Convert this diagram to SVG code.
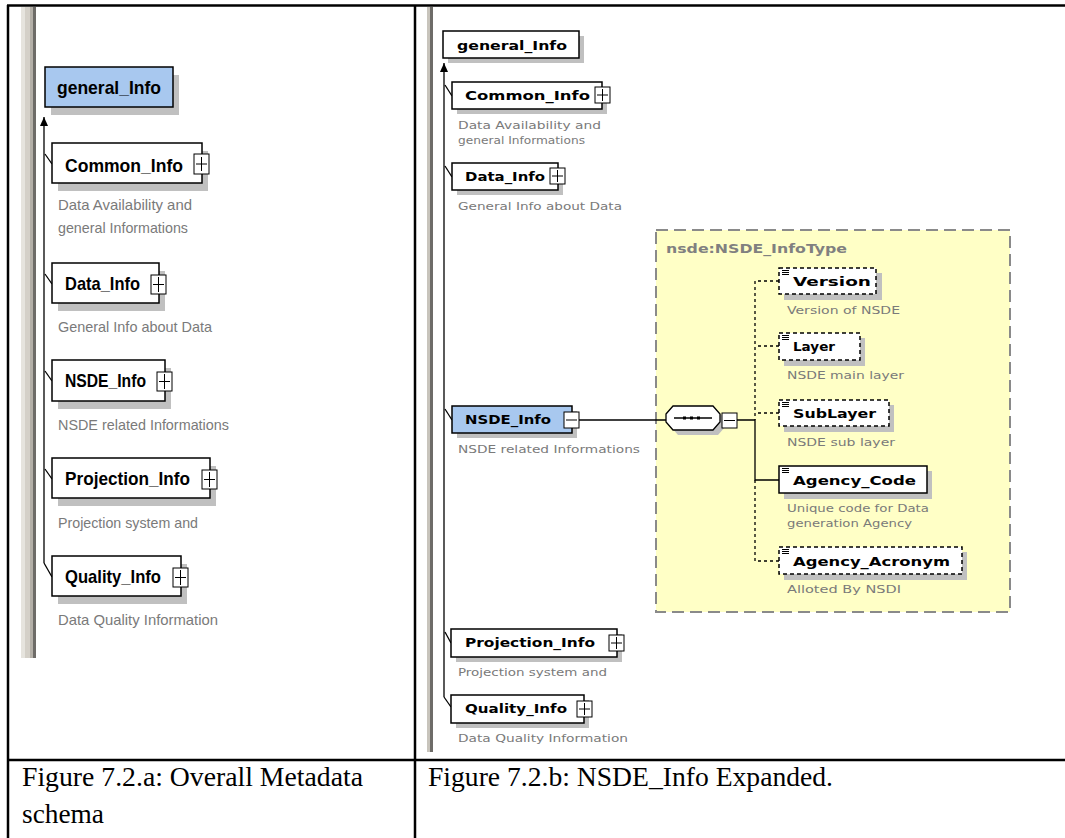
<svg xmlns="http://www.w3.org/2000/svg" width="1065" height="838" viewBox="0 0 1065 838">
<style>
.box{fill:#fff;stroke:#000;stroke-width:1.5}
.blue{fill:#a8c8ef;stroke:#000;stroke-width:1.5}
.dbox{fill:#fff;stroke:#000;stroke-width:1.5;stroke-dasharray:4,3}
.sh{fill:#c0c0c0}
.pb{fill:#fff;stroke:#000;stroke-width:1}
.pl{stroke:#000;stroke-width:1}
.ln{fill:none;stroke:#000;stroke-width:1.3}
.dl{fill:none;stroke:#000;stroke-width:1.3;stroke-dasharray:3,3}
.lt{font-family:"Liberation Sans",Arial,sans-serif;font-weight:bold;font-size:19px;fill:#000}
.ld{font-family:"Liberation Sans",Arial,sans-serif;font-size:15px;fill:#7a7a7a}
.rt{font-family:"DejaVu Sans",Verdana,sans-serif;font-weight:bold;font-size:12.5px;fill:#000}
.rd{font-family:"DejaVu Sans",Verdana,sans-serif;font-size:11px;fill:#7a7a7a}
.cap{font-family:"Liberation Serif","Times New Roman",serif;font-size:27px;fill:#000}
.tb{stroke:#000;stroke-width:2.5}
</style>
<defs>
<marker id="arr" markerWidth="10" markerHeight="8" refX="9" refY="4" orient="auto" markerUnits="userSpaceOnUse">
<path d="M0,0 L9,4 L0,8 Z" fill="#000"/>
</marker>
</defs>
<rect width="1065" height="838" fill="#fff"/>
<!-- table -->
<g id="table">
<line class="tb" x1="7" y1="5.5" x2="1065" y2="5.5"/>
<line class="tb" x1="8" y1="5" x2="8" y2="838"/>
<line class="tb" x1="415" y1="5" x2="415" y2="838"/>
<line class="tb" x1="7" y1="760" x2="1065" y2="760"/>
</g>
<!-- gray bars -->
<g id="leftbar">
<rect x="21" y="7" width="4" height="651" fill="#e6e4de"/>
<rect x="25" y="7" width="5" height="651" fill="#d4d0c8"/>
<rect x="30" y="7" width="3" height="651" fill="#b4b0a8"/>
<rect x="33" y="7" width="3" height="651" fill="#6e6c68"/>
</g>
<g id="rightbar">
<rect x="427" y="7" width="3" height="745" fill="#c8c4bc"/>
<rect x="430" y="7" width="3" height="745" fill="#6e6c68"/>
</g>
<g id="nsde-InfoType">
<rect x="656" y="230" width="354" height="382" fill="#ffffc6" stroke="#8a8a8a" stroke-width="2" stroke-dasharray="12,6"/>
<text x="666" y="253" font-family="DejaVu Sans,Verdana,sans-serif" font-weight="bold" font-size="12px" fill="#808080" textLength="181" lengthAdjust="spacingAndGlyphs">nsde:NSDE_InfoType</text>
</g>
<!-- connectors -->
<g id="connectors">
<path class="ln" d="M44,563 L44,117" marker-end="url(#arr)"/>
<path class="ln" d="M44,563 L52,577"/>
<path class="ln" d="M45,154 L52,164"/>
<path class="ln" d="M45,274 L52,284"/>
<path class="ln" d="M45,371 L52,381"/>
<path class="ln" d="M45,469 L52,479"/>
<path class="ln" d="M444,697 L444,63" marker-end="url(#arr)"/>
<path class="ln" d="M444,697 L451,707"/>
<path class="ln" d="M445,85 L452,96"/>
<path class="ln" d="M445,166 L452,177"/>
<path class="ln" d="M445,409 L452,420"/>
<path class="ln" d="M445,632 L451,643"/>
<path class="ln" d="M579,420 L666,420"/>
<path class="ln" d="M737,420 L755,420 L755,480 L779,480"/>
<path class="dl" d="M779,281 L755,281 L755,420"/>
<path class="dl" d="M779,346 L755,346"/>
<path class="dl" d="M779,413 L755,413"/>
<path class="dl" d="M755,480 L755,561 L779,561"/>
</g>
<!-- left panel -->
<g id="l-general_Info">
<rect class="sh" x="51" y="75" width="128" height="40"/>
<rect class="blue" x="45" y="67" width="128" height="40"/>
<text class="lt" x="57" y="94" textLength="104" lengthAdjust="spacingAndGlyphs">general_Info</text>
</g>
<g id="l-Common_Info">
<rect class="sh" x="58" y="151" width="150" height="40"/>
<rect class="box" x="52" y="143" width="150" height="40"/>
<text class="lt" x="65" y="172" textLength="118" lengthAdjust="spacingAndGlyphs">Common_Info</text>
<rect class="pb" x="194" y="154" width="15" height="20"/>
<path class="pl" d="M196,164 H207 M201.5,157 V171"/>
<text class="ld" x="58" y="210" textLength="134" lengthAdjust="spacingAndGlyphs">Data Availability and</text>
<text class="ld" x="58" y="233" textLength="130" lengthAdjust="spacingAndGlyphs">general Informations</text>
</g>
<g id="l-Data_Info">
<rect class="sh" x="58" y="271" width="107" height="40"/>
<rect class="box" x="52" y="263" width="107" height="40"/>
<text class="lt" x="65" y="290" textLength="75" lengthAdjust="spacingAndGlyphs">Data_Info</text>
<rect class="pb" x="151" y="275" width="15" height="19"/>
<path class="pl" d="M153,284.5 H164 M158.5,277 V292"/>
<text class="ld" x="58" y="332" textLength="154" lengthAdjust="spacingAndGlyphs">General Info about Data</text>
</g>
<g id="l-NSDE_Info">
<rect class="sh" x="58" y="368" width="113" height="41"/>
<rect class="box" x="52" y="360" width="113" height="41"/>
<text class="lt" x="65" y="387" textLength="81" lengthAdjust="spacingAndGlyphs">NSDE_Info</text>
<rect class="pb" x="157" y="372" width="15" height="19"/>
<path class="pl" d="M159,381.5 H170 M164.5,374 V389"/>
<text class="ld" x="58" y="430" textLength="171" lengthAdjust="spacingAndGlyphs">NSDE related Informations</text>
</g>
<g id="l-Projection_Info">
<rect class="sh" x="58" y="466" width="158" height="40"/>
<rect class="box" x="52" y="458" width="158" height="40"/>
<text class="lt" x="65" y="485" textLength="125" lengthAdjust="spacingAndGlyphs">Projection_Info</text>
<rect class="pb" x="202" y="470" width="15" height="19"/>
<path class="pl" d="M204,479.5 H215 M209.5,472 V487"/>
<text class="ld" x="58" y="528" textLength="140" lengthAdjust="spacingAndGlyphs">Projection system and</text>
</g>
<g id="l-Quality_Info">
<rect class="sh" x="58" y="564" width="129" height="40"/>
<rect class="box" x="52" y="556" width="129" height="40"/>
<text class="lt" x="65" y="583" textLength="96" lengthAdjust="spacingAndGlyphs">Quality_Info</text>
<rect class="pb" x="173" y="568" width="15" height="19"/>
<path class="pl" d="M175,577.5 H186 M180.5,570 V585"/>
<text class="ld" x="58" y="625" textLength="160" lengthAdjust="spacingAndGlyphs">Data Quality Information</text>
</g>
<!-- right panel -->
<g id="r-general_Info">
<rect class="sh" x="448" y="36" width="136" height="27"/>
<rect class="box" x="443" y="31" width="136" height="27"/>
<text class="rt" x="457" y="50" textLength="110" lengthAdjust="spacingAndGlyphs">general_Info</text>
</g>
<g id="r-Common_Info">
<rect class="sh" x="457" y="87" width="150" height="27"/>
<rect class="box" x="452" y="82" width="150" height="27"/>
<text class="rt" x="465" y="100" textLength="125" lengthAdjust="spacingAndGlyphs">Common_Info</text>
<rect class="pb" x="595" y="87" width="15" height="16"/>
<path class="pl" d="M597,95 H608 M602.5,89 V101"/>
<text class="rd" x="458" y="129" textLength="143" lengthAdjust="spacingAndGlyphs">Data Availability and</text>
<text class="rd" x="458" y="144" textLength="127" lengthAdjust="spacingAndGlyphs">general Informations</text>
</g>
<g id="r-Data_Info">
<rect class="sh" x="457" y="168" width="106" height="27"/>
<rect class="box" x="452" y="163" width="106" height="27"/>
<text class="rt" x="465" y="181" textLength="80" lengthAdjust="spacingAndGlyphs">Data_Info</text>
<rect class="pb" x="550" y="168" width="15" height="16"/>
<path class="pl" d="M552,176 H563 M557.5,170 V182"/>
<text class="rd" x="458" y="210" textLength="164" lengthAdjust="spacingAndGlyphs">General Info about Data</text>
</g>
<g id="r-NSDE_Info">
<rect class="sh" x="457" y="411" width="120" height="27"/>
<rect class="blue" x="452" y="406" width="120" height="27"/>
<text class="rt" x="465" y="424" textLength="86" lengthAdjust="spacingAndGlyphs">NSDE_Info</text>
<rect class="pb" x="564" y="412" width="15" height="16"/>
<path class="pl" d="M566,420 H577"/>
<text class="rd" x="458" y="453" textLength="182" lengthAdjust="spacingAndGlyphs">NSDE related Informations</text>
</g>
<g id="sequence">
<path d="M671,419 L678,411 L718,411 L725,419 L725,427 L718,435 L678,435 L671,427 Z" fill="#c0c0c0"/>
<path d="M666,414 L673,406 L713,406 L720,414 L720,422 L713,430 L673,430 L666,422 Z" fill="#fff" stroke="#000" stroke-width="1.3"/>
<path d="M674,418 H712" stroke="#000" stroke-width="1.3"/>
<rect x="683" y="416.5" width="3" height="3" fill="#000"/>
<rect x="690" y="416.5" width="3" height="3" fill="#000"/>
<rect x="697" y="416.5" width="3" height="3" fill="#000"/>
<rect class="pb" x="722" y="413" width="15" height="15"/>
<path class="pl" d="M724,420.5 H735"/>
</g>
<g id="Version">
<rect class="sh" x="784" y="273" width="98" height="27"/>
<rect class="dbox" x="779" y="268" width="97" height="26"/>
<path class="pl" d="M782,270.5 H789 M782,272.5 H789 M782,274.5 H789"/>
<text class="rt" x="793" y="286" textLength="78" lengthAdjust="spacingAndGlyphs">Version</text>
<text class="rd" x="787" y="314" textLength="113" lengthAdjust="spacingAndGlyphs">Version of NSDE</text>
</g>
<g id="Layer">
<rect class="sh" x="784" y="338" width="81" height="28"/>
<rect class="dbox" x="779" y="333" width="81" height="27"/>
<path class="pl" d="M782,335.5 H789 M782,337.5 H789 M782,339.5 H789"/>
<text class="rt" x="793" y="351" textLength="42" lengthAdjust="spacingAndGlyphs">Layer</text>
<text class="rd" x="787" y="379" textLength="117" lengthAdjust="spacingAndGlyphs">NSDE main layer</text>
</g>
<g id="SubLayer">
<rect class="sh" x="784" y="405" width="110" height="27"/>
<rect class="dbox" x="779" y="400" width="110" height="26"/>
<path class="pl" d="M782,402.5 H789 M782,404.5 H789 M782,406.5 H789"/>
<text class="rt" x="793" y="418" textLength="83" lengthAdjust="spacingAndGlyphs">SubLayer</text>
<text class="rd" x="787" y="446" textLength="108" lengthAdjust="spacingAndGlyphs">NSDE sub layer</text>
</g>
<g id="Agency_Code">
<rect class="sh" x="784" y="471" width="148" height="28"/>
<rect class="box" x="779" y="466" width="148" height="27"/>
<path class="pl" d="M782,468.5 H789 M782,470.5 H789 M782,472.5 H789"/>
<text class="rt" x="793" y="485" textLength="123" lengthAdjust="spacingAndGlyphs">Agency_Code</text>
<text class="rd" x="787" y="512" textLength="142" lengthAdjust="spacingAndGlyphs">Unique code for Data</text>
<text class="rd" x="787" y="527" textLength="125" lengthAdjust="spacingAndGlyphs">generation Agency</text>
</g>
<g id="Agency_Acronym">
<rect class="sh" x="784" y="552" width="183" height="28"/>
<rect class="dbox" x="779" y="547" width="183" height="27"/>
<path class="pl" d="M782,549.5 H789 M782,551.5 H789 M782,553.5 H789"/>
<text class="rt" x="793" y="566" textLength="157" lengthAdjust="spacingAndGlyphs">Agency_Acronym</text>
<text class="rd" x="787" y="593" textLength="114" lengthAdjust="spacingAndGlyphs">Alloted By NSDI</text>
</g>
<g id="r-Projection_Info">
<rect class="sh" x="456" y="634" width="166" height="28"/>
<rect class="box" x="451" y="629" width="166" height="28"/>
<text class="rt" x="465" y="647" textLength="130" lengthAdjust="spacingAndGlyphs">Projection_Info</text>
<rect class="pb" x="609" y="635" width="15" height="16"/>
<path class="pl" d="M611,643 H622 M616.5,637 V649"/>
<text class="rd" x="458" y="676" textLength="149" lengthAdjust="spacingAndGlyphs">Projection system and</text>
</g>
<g id="r-Quality_Info">
<rect class="sh" x="456" y="700" width="133" height="28"/>
<rect class="box" x="451" y="695" width="133" height="28"/>
<text class="rt" x="465" y="713" textLength="102" lengthAdjust="spacingAndGlyphs">Quality_Info</text>
<rect class="pb" x="577" y="701" width="15" height="16"/>
<path class="pl" d="M579,709 H590 M584.5,703 V715"/>
<text class="rd" x="458" y="742" textLength="170" lengthAdjust="spacingAndGlyphs">Data Quality Information</text>
</g>
<!-- captions -->
<g id="captions">
<text class="cap" x="22" y="786" textLength="341" lengthAdjust="spacingAndGlyphs">Figure 7.2.a: Overall Metadata</text>
<text class="cap" x="22" y="823" textLength="82" lengthAdjust="spacingAndGlyphs">schema</text>
<text class="cap" x="428" y="786" textLength="405" lengthAdjust="spacingAndGlyphs">Figure 7.2.b: NSDE_Info Expanded.</text>
</g>
</svg>
